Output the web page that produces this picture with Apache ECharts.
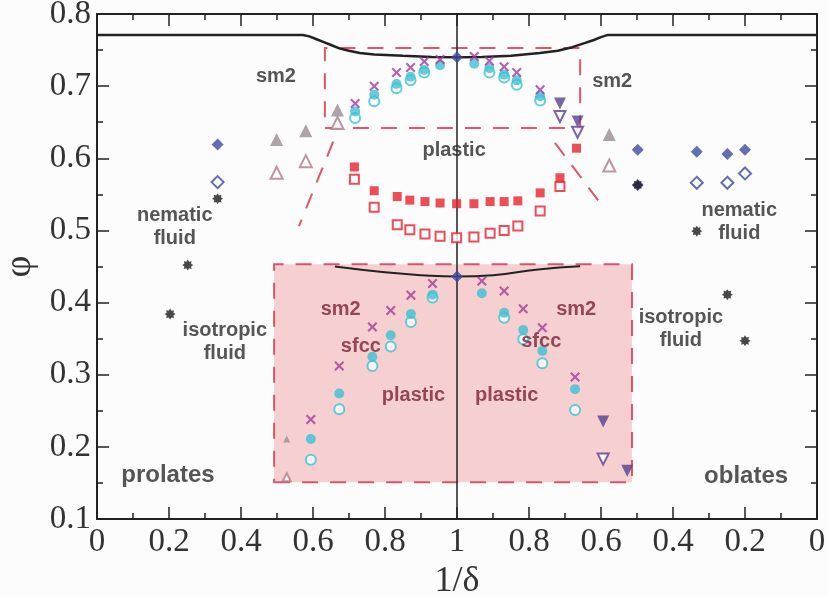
<!DOCTYPE html>
<html>
<head>
<meta charset="utf-8">
<title>phase diagram</title>
<script src="https://cdn.jsdelivr.net/npm/echarts@6.0.0/dist/echarts.min.js"></script>
</head>
<body style="margin:0;background:#fcfcfc">
<div id="main" style="width:828px;height:596px;"></div>
<script>
// x runs 0..2 : left half is 1/delta (prolates), right half is 2 - 1/delta (oblates)
var crossPts = [[0.717,0.676],[0.770,0.700],[0.832,0.719],[0.871,0.726],[0.909,0.734],[0.953,0.737],
  [1.048,0.741],[1.090,0.735],[1.131,0.727],[1.166,0.719],[1.231,0.695],
  [0.594,0.238],[0.673,0.312],[0.765,0.366],[0.816,0.389],[0.872,0.410],[0.932,0.4265],
  [1.069,0.430],[1.131,0.416],[1.184,0.3915],[1.237,0.365],[1.328,0.297]];
var dotPts = [[0.717,0.665],[0.770,0.688],[0.832,0.703],[0.871,0.713],[0.909,0.7225],[0.953,0.729],
  [1.048,0.731],[1.090,0.725],[1.131,0.716],[1.166,0.708],[1.231,0.686],
  [0.594,0.211],[0.673,0.274],[0.765,0.325],[0.816,0.3546],[0.872,0.384],[0.932,0.411],
  [1.069,0.413],[1.131,0.386],[1.184,0.362],[1.237,0.333],[1.328,0.280]];
var ringPts = [[0.717,0.656],[0.770,0.679],[0.832,0.697],[0.871,0.708],[0.909,0.719],
  [1.090,0.719],[1.131,0.712],[1.166,0.702],[1.231,0.680],
  [0.594,0.182],[0.673,0.252],[0.765,0.312],[0.816,0.339],[0.872,0.373],[0.932,0.407],
  [1.131,0.379],[1.184,0.349],[1.237,0.316],[1.328,0.251]];
var sqFull = [[0.715,0.588],[0.770,0.555],[0.834,0.547],[0.869,0.542],[0.911,0.540],[0.953,0.538],[0.999,0.537],
  [1.047,0.537],[1.092,0.540],[1.131,0.540],[1.169,0.541],[1.231,0.552],[1.286,0.573],[1.332,0.614]];
var sqOpen = [[0.715,0.571],[0.770,0.532],[0.834,0.508],[0.869,0.501],[0.911,0.495],[0.953,0.492],[0.999,0.490],
  [1.047,0.491],[1.092,0.496],[1.131,0.500],[1.169,0.506],[1.231,0.527],[1.286,0.561]];
var triFull = [[0.499,0.626],[0.580,0.638],[0.668,0.667],[1.423,0.633]];
var triOpen = [[0.499,0.580],[0.580,0.596],[0.668,0.649],[1.423,0.590]];
var triSmallFull = [[0.527,0.211]];
var triSmallOpen = [[0.527,0.158]];
var downFull = [[1.286,0.676],[1.335,0.651],[1.406,0.235],[1.473,0.167]];
var downOpen = [[1.286,0.658],[1.335,0.636],[1.406,0.183]];
var diaFull = [[0.335,0.619],[1.502,0.612],[1.666,0.609],[1.751,0.606],[1.800,0.612],[1.000,0.740],[1.000,0.436],[1.502,0.563]];
var diaOpen = [[0.335,0.567],[1.666,0.566],[1.751,0.566],[1.800,0.579]];
var starPts = [[0.335,0.544],[0.252,0.452],[0.203,0.384],[1.502,0.563],[1.666,0.499],[1.751,0.411],[1.800,0.347]];

// boundaries
var topCurve = [[0,0.771],[0.572,0.771],[0.59,0.769],[0.61,0.765],[0.63,0.761],[0.65,0.757],[0.675,0.752],
  [0.70,0.749],[0.73,0.746],[0.77,0.744],[0.85,0.742],[0.93,0.7405],[1,0.740],
  [1.07,0.7405],[1.15,0.742],[1.23,0.746],[1.28,0.749],[1.32,0.754],[1.35,0.759],[1.38,0.764],[1.40,0.768],[1.419,0.771],[2,0.771]];
var lowCurve = [[0.661,0.450],[0.8,0.442],[0.9,0.438],[1,0.436],[1.1,0.438],[1.225,0.446],[1.342,0.4505]];
var leftDiag = [[0.656,0.623],[0.561,0.506]];
var rightDiag = [[1.272,0.6215],[1.406,0.5325]];
var upperBox = [[0.633,0.642],[1.342,0.753]];
var plasticBox = [[0.492,0.151],[1.486,0.453]];

// annotations: [text, x, y, inside pink box?, size]
var notes = [
  ['sm2',0.497,0.714,0,20],['sm2',1.431,0.707,0,20],['plastic',0.992,0.6105,0,20],
  ['nematic\nfluid',0.216,0.505,0,20],['nematic\nfluid',1.784,0.512,0,20],
  ['isotropic\nfluid',0.355,0.3455,0,20],['isotropic\nfluid',1.622,0.363,0,20],
  ['prolates',0.197,0.161,0,24],['oblates',1.803,0.1595,0,24],
  ['sm2',0.677,0.3905,1,20],['sfcc',0.733,0.339,1,20],['plastic',0.879,0.2716,1,20],
  ['sm2',1.331,0.3905,1,20],['sfcc',1.234,0.3467,1,20],['plastic',1.138,0.2716,1,20]
];

var sp = [];
for (var k = 0; k < 16; k++) {
  var a = Math.PI * k / 8, r = k % 2 ? 6.5 : 10;
  sp.push((10 + r * Math.sin(a)).toFixed(2) + ',' + (10 - r * Math.cos(a)).toFixed(2));
}
var starPath = 'path://M' + sp.join('L') + 'Z';
var crossPath = 'path://M0,1.5L1.5,0L5,3.5L8.5,0L10,1.5L6.5,5L10,8.5L8.5,10L5,6.5L1.5,10L0,8.5L3.5,5Z';

function pts(name, data, symbol, size, color, open, rot) {
  return {
    name: name, type: 'scatter', data: data, symbol: symbol, symbolSize: size, symbolRotate: rot || 0, z: 5,
    itemStyle: open ? {color: '#ffffff', borderColor: color, borderWidth: 2} : {color: color}
  };
}

function axisX(pos, labels) {
  return {
    type: 'value', min: 0, max: 2, interval: 0.2, position: pos,
    axisLine: {onZero: false, lineStyle: {color: '#222', width: 2}},
    axisTick: {inside: true, length: 12, lineStyle: {color: '#222', width: 1.5}},
    minorTick: {show: true, splitNumber: 2, length: 6, lineStyle: {color: '#222', width: 1.5}},
    splitLine: {show: false},
    axisLabel: {show: labels, margin: 7, fontFamily: 'Liberation Serif', fontSize: 33, color: '#333',
      formatter: function (v) { var t = v <= 1 ? v : 2 - v; return String(+t.toFixed(1)); }},
    name: labels ? '1/\u03b4' : '', nameLocation: 'middle', nameGap: 42,
    nameTextStyle: {fontFamily: 'Liberation Serif', fontSize: 36, color: '#333'}
  };
}
function axisY(pos, labels) {
  return {
    type: 'value', min: 0.1, max: 0.8, interval: 0.1, position: pos,
    axisLine: {onZero: false, lineStyle: {color: '#222', width: 2}},
    axisTick: {inside: true, length: 12, lineStyle: {color: '#222', width: 1.5}},
    minorTick: {show: true, splitNumber: 2, length: 6, lineStyle: {color: '#222', width: 1.5}},
    splitLine: {show: false},
    axisLabel: {show: labels, margin: 6, fontFamily: 'Liberation Serif', fontSize: 33, color: '#333',
      formatter: function (v) { return v.toFixed(1); }},
    name: labels ? '\u03c6' : '', nameLocation: 'middle', nameGap: 58, nameRotate: 90,
    nameTextStyle: {fontFamily: 'Liberation Serif', fontSize: 38, color: '#333'}
  };
}

var chart = echarts.init(document.getElementById('main'));
var dash = {color: '#e0566a', width: 2, type: [16, 12]};

var series = [
  {type: 'scatter', data: [], z: 1,
    markArea: {silent: true, data: [
      [{coord: plasticBox[0], itemStyle: {color: '#f6d0d0', borderColor: '#d9546a', borderWidth: 2, borderType: [16, 12]}}, {coord: plasticBox[1]}],
      [{coord: upperBox[0], itemStyle: {color: 'rgba(0,0,0,0)', borderColor: '#e0566a', borderWidth: 2, borderType: [16, 12]}}, {coord: upperBox[1]}]
    ]},
    markLine: {silent: true, symbol: 'none', label: {show: false}, lineStyle: {color: '#222', width: 1.5, type: 'solid'}, data: [{xAxis: 1}]}
  },
  {type: 'line', data: leftDiag, symbol: 'none', lineStyle: dash, z: 2},
  {type: 'line', data: rightDiag, symbol: 'none', lineStyle: dash, z: 2},
  {type: 'line', data: topCurve, symbol: 'none', lineStyle: {color: '#222', width: 2.5}, z: 3},
  {type: 'line', data: lowCurve, symbol: 'none', smooth: true, lineStyle: {color: '#222', width: 2}, z: 3},
  pts('triFull', triFull, 'triangle', 13, '#9a8d92'),
  pts('triOpen', triOpen, 'triangle', 12, '#b27b88', true),
  pts('triSmallFull', triSmallFull, 'triangle', 7, '#9a8d92'),
  pts('triSmallOpen', triSmallOpen, 'triangle', 8, '#b27b88', true),
  pts('sqFull', sqFull, 'rect', 9, '#e8202c'),
  pts('sqOpen', sqOpen, 'rect', 9, '#e8202c', true),
  pts('ring', ringPts, 'circle', 10, '#3cc0d2', true),
  pts('dot', dotPts, 'circle', 10, '#3cc0d2'),
  pts('cross', crossPts, crossPath, 10, '#a23c9a'),
  pts('downFull', downFull, 'triangle', 12, '#58408e', false, 180),
  pts('downOpen', downOpen, 'triangle', 11, '#58408e', true, 180),
  pts('diaOpen', diaOpen, 'diamond', 12, '#3c4a9e', true),
  pts('diaFull', diaFull, 'diamond', 12, '#3c4a9e'),
  pts('star', starPts, starPath, 11, '#1a1a1a'),
  {type: 'scatter', symbolSize: 0, z: 6,
    data: notes.map(function (n) { return {value: [n[1], n[2]], name: n[0],
      label: {color: n[3] ? '#7b2334' : '#2a2a2a', fontSize: n[4]}}; }),
    label: {show: true, position: 'inside', formatter: '{b}', fontFamily: 'Liberation Sans', fontWeight: 'bold',
      fontSize: 20, lineHeight: 23, align: 'center'}
  }
];

chart.setOption({
  animation: false,
  backgroundColor: '#fcfcfc',
  grid: {left: 97, right: 11, top: 14, bottom: 77, outerBoundsMode: 'none'},
  xAxis: [axisX('bottom', true), axisX('top', false)],
  yAxis: [axisY('left', true), axisY('right', false)],
  series: series
});
</script>
</body>
</html>
